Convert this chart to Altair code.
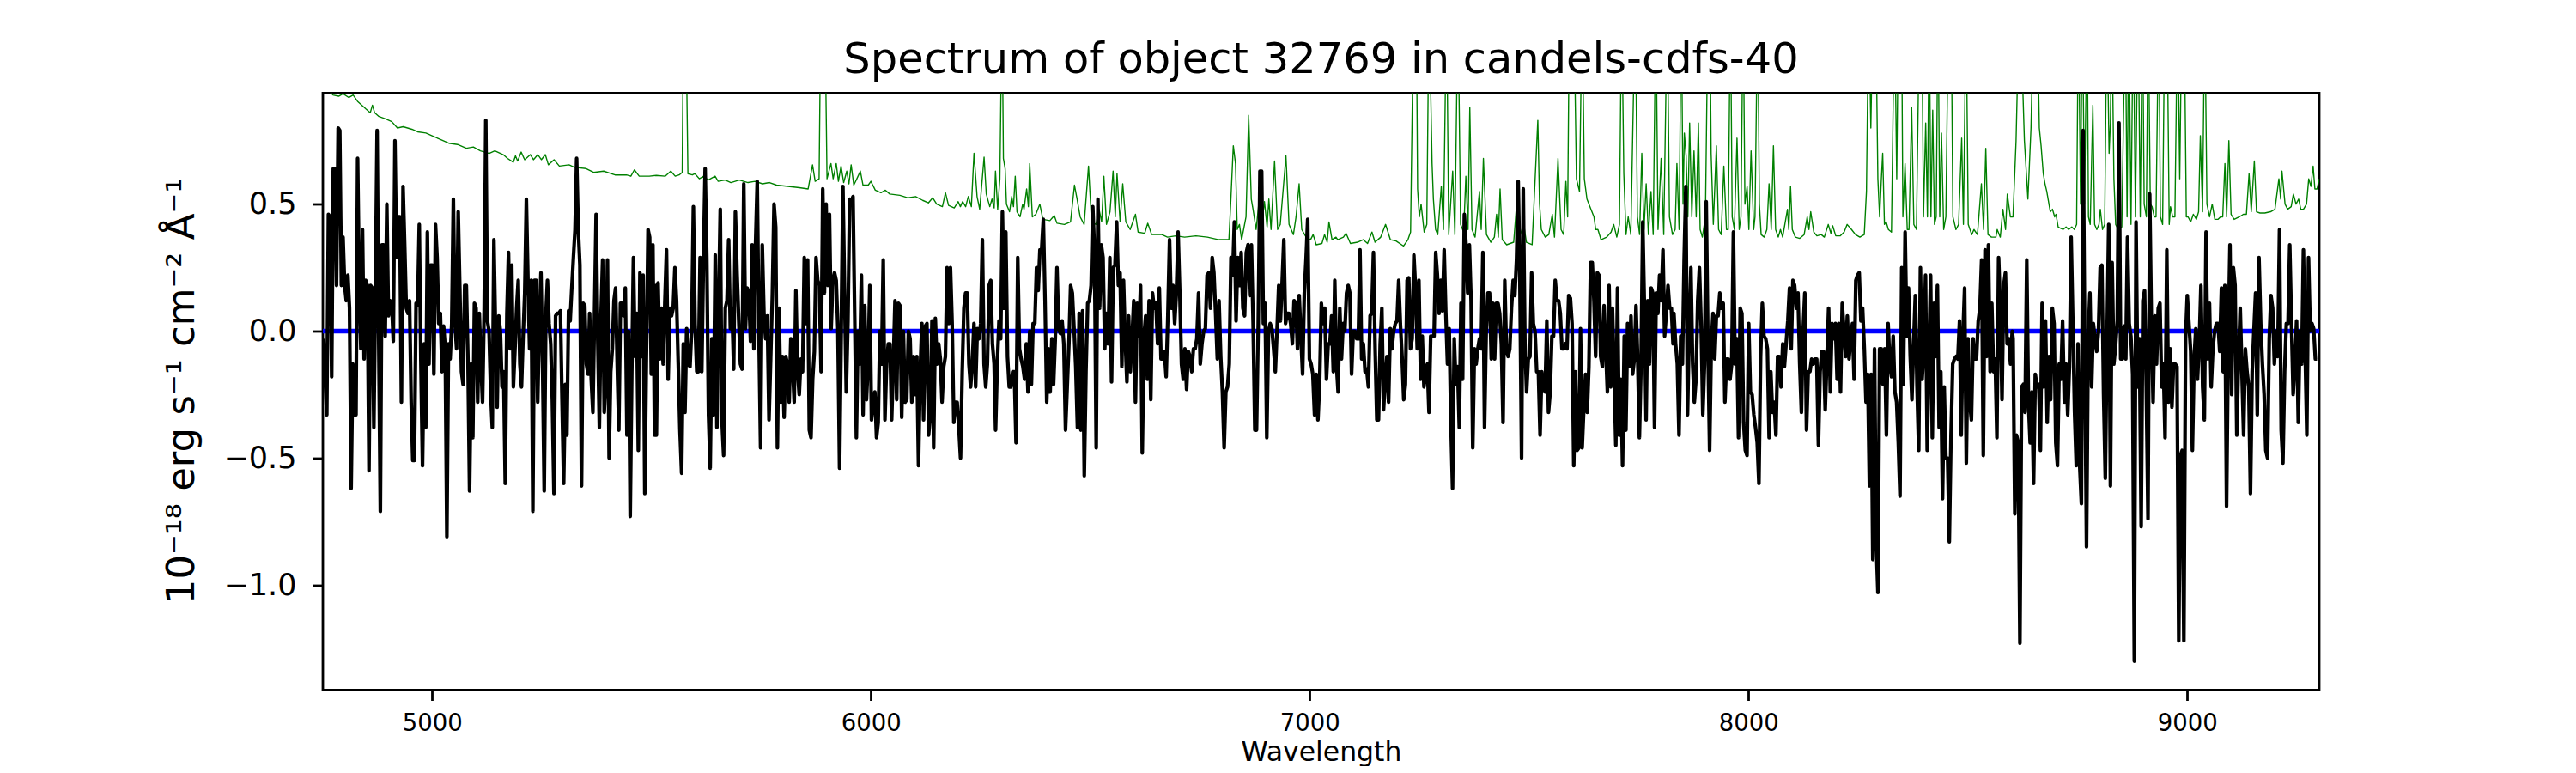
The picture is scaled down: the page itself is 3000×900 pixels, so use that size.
import altair as alt
import numpy as np
import pandas as pd

# ---- observed flux (black), sampled on an even grid inside each wavelength segment ----
seg_start = [4752.6, 5511.2, 6284.2, 7057.2, 7830.2, 8603.2]
seg_end = [5510.6, 6280.9, 7053.9, 7828.2, 8601.2, 9296.0]

flux_1 = [-0.03,-0.19,-0.33,0.46,0.45,-0.18,0.64,0.64,0.18,0.80,0.79,0.18,0.37,0.18,0.12,0.22,0.09,-0.62,-0.13,-0.33,
          -0.33,0.68,0.18,-0.07,0.40,-0.11,0.20,0.18,-0.55,0.18,0.17,-0.38,0.17,0.79,-0.03,-0.71,0.34,0.34,-0.02,0.50,
          0.06,0.12,0.11,-0.04,0.75,0.29,0.45,0.45,-0.28,0.57,0.34,0.09,0.07,0.12,-0.28,-0.51,-0.51,0.11,0.10,0.42,
          -0.13,-0.53,-0.05,-0.38,0.39,-0.13,0.26,0.26,-0.17,0.42,0.29,0.03,0.07,-0.16,0.02,-0.07,-0.81,-0.05,-0.11,0.03,
          0.52,0.03,-0.07,0.47,0.17,-0.16,-0.21,0.18,0.18,-0.11,-0.63,-0.13,-0.42,0.11,0.09,-0.28,0.07,-0.13,-0.28,0.09,
          0.83,0.04,0.00,-0.24,-0.38,0.36,0.00,-0.30,0.06,0.00,-0.22,-0.16,-0.60,0.07,0.31,-0.07,0.26,-0.22,-0.07,0.09,
          0.20,-0.13,-0.22,-0.02,0.15,0.52,0.20,-0.07,0.20,-0.71,0.20,0.20,-0.28,0.03,0.23,-0.13,-0.63,0.06,0.20,0.03,
          -0.05,-0.27,-0.64,0.06,0.07,0.07,0.08,-0.28,-0.60,-0.21,-0.41,0.08,0.04,0.17,0.29,0.40,0.68,0.40,0.26,-0.61,
          0.11,0.10,-0.13,-0.17,0.07,-0.19,-0.32,0.06,0.46,-0.03,-0.38,0.06,0.28,-0.32,-0.19,0.28,-0.50,-0.16,-0.07,0.12,
          0.17,-0.13,-0.39,0.11,0.11,0.06,0.17,-0.41,0.00,-0.73,-0.16,0.29,-0.10,0.07,-0.47,0.23,-0.10,0.22,-0.64,-0.10,
          0.40,0.37,-0.17,0.34,-0.41,0.18]
flux_2 = [-0.41,0.19,-0.11,0.09,-0.13,0.11,0.32,-0.19,0.09,0.06,0.09,0.25,0.12,-0.13,-0.39,-0.56,-0.05,-0.32,0.01,-0.13,
          -0.14,0.01,0.49,0.03,-0.16,-0.16,0.29,-0.16,0.28,0.64,0.29,-0.33,-0.54,-0.03,-0.33,0.30,-0.38,0.09,0.48,-0.35,
          -0.49,0.09,0.12,0.36,0.01,0.09,-0.15,0.47,0.23,0.04,-0.13,-0.15,0.58,0.01,0.17,0.15,-0.04,0.34,-0.07,0.34,
          0.59,0.00,-0.46,0.34,0.07,-0.03,0.06,-0.35,-0.11,0.14,0.50,0.41,-0.46,0.09,-0.28,-0.10,-0.34,-0.10,-0.13,-0.28,
          -0.03,-0.13,-0.28,0.16,-0.16,-0.25,-0.11,-0.16,0.29,0.03,0.28,-0.39,-0.42,-0.19,-0.08,0.29,0.20,0.18,-0.16,0.56,
          0.15,0.50,0.18,0.46,0.01,0.20,0.23,0.20,0.01,-0.54,0.00,0.57,0.15,-0.24,0.04,0.52,0.51,0.53,0.06,-0.42,
          0.00,-0.13,0.22,-0.33,0.10,-0.27,-0.13,0.18,-0.35,-0.28,-0.24,-0.42,-0.36,0.00,-0.13,0.28,-0.35,-0.13,-0.05,-0.05,
          -0.35,-0.13,0.12,-0.27,0.11,0.10,-0.34,0.00,-0.28,-0.27,0.00,-0.03,-0.28,-0.10,-0.25,-0.10,-0.53,-0.16,0.03,-0.35,
          0.02,0.03,-0.41,-0.33,0.04,-0.46,0.05,-0.13,-0.05,-0.11,-0.28,-0.14,-0.10,0.25,0.03,0.25,0.03,-0.36,-0.28,-0.28,
          -0.38,-0.50,-0.16,0.09,0.15,0.15,-0.13,-0.22,-0.13,0.03,-0.22,0.01,-0.03,0.03,0.36,-0.13,-0.22,-0.13,0.18,0.20,
          -0.05,-0.13]
flux_3 = [-0.39,-0.13,0.04,-0.03,0.47,0.09,0.39,-0.10,-0.22,-0.22,-0.16,-0.16,-0.44,0.29,-0.07,-0.11,-0.14,-0.19,-0.05,-0.24,
          0.00,-0.21,0.03,0.03,0.25,0.16,0.32,0.32,0.44,0.12,-0.28,-0.07,-0.24,-0.03,-0.21,-0.03,0.25,0.01,-0.01,0.04,
          -0.05,-0.39,-0.22,-0.05,0.18,0.15,0.01,-0.14,-0.38,0.07,-0.39,0.08,-0.57,-0.16,0.11,0.12,0.18,0.49,0.31,-0.46,
          0.52,0.09,0.34,0.29,-0.07,0.07,-0.05,0.29,-0.20,0.25,0.26,0.43,0.18,0.23,-0.14,0.20,-0.03,-0.20,0.06,-0.16,
          -0.03,0.12,-0.28,0.11,-0.02,0.18,-0.48,-0.02,0.06,-0.19,0.12,-0.27,0.15,0.09,0.11,-0.05,0.17,-0.11,-0.11,-0.08,
          -0.18,0.06,0.36,0.09,0.18,0.03,0.15,0.39,0.15,-0.13,-0.19,-0.07,-0.23,-0.08,-0.10,-0.16,-0.07,-0.07,-0.03,0.15,
          -0.13,-0.05,0.00,0.01,0.22,0.23,0.09,0.29,0.23,0.07,-0.11,0.12,-0.10,-0.24,-0.46,-0.24,-0.22,-0.13,0.29,0.22,
          0.43,0.04,0.29,0.18,0.31,0.09,0.06,0.31,0.34,0.14,0.34,0.03,-0.39,-0.39,0.03,0.63,0.63,0.03,0.11,-0.42,
          0.00,0.03,0.01,-0.07,-0.16,0.00,0.18,0.04,0.19,0.36,0.03,0.07,0.07,0.03,-0.05,0.12,0.11,-0.07,0.14,-0.02,
          -0.17,0.15,0.28,0.44,-0.11,-0.13,-0.17,-0.33,-0.17,-0.35,-0.20,0.11,0.03,0.09,-0.19,-0.05,-0.05,0.06,-0.16]
flux_4 = [0.20,-0.13,-0.24,0.09,-0.11,0.03,0.00,0.15,0.18,0.15,-0.17,0.00,0.00,-0.03,-0.03,0.32,-0.11,-0.05,-0.16,-0.15,
          -0.22,0.06,0.07,0.31,-0.07,-0.35,-0.35,-0.05,0.09,-0.31,-0.19,-0.10,-0.28,0.01,-0.07,0.00,0.03,0.04,0.20,0.03,
          -0.10,-0.27,-0.21,0.20,0.21,-0.07,-0.03,0.30,0.17,-0.07,0.20,-0.19,-0.02,-0.22,-0.16,-0.13,-0.32,-0.02,-0.02,-0.02,
          0.31,0.22,0.07,0.20,0.08,0.32,0.07,-0.13,0.01,-0.36,-0.62,-0.03,-0.21,-0.14,-0.38,0.11,-0.19,0.46,0.34,0.15,
          0.34,0.12,-0.46,-0.07,-0.13,-0.07,-0.03,-0.07,0.31,-0.38,0.00,0.15,0.15,-0.11,0.11,-0.11,0.11,0.11,0.07,-0.05,
          -0.36,0.20,-0.07,-0.10,-0.07,0.09,0.20,0.14,0.28,0.59,0.20,-0.50,0.56,-0.05,-0.24,-0.11,-0.10,0.23,0.03,0.00,
          -0.16,-0.16,-0.41,-0.16,-0.22,-0.24,0.04,-0.32,-0.24,-0.02,-0.02,0.20,0.12,0.12,0.07,-0.07,-0.07,-0.05,-0.07,0.14,
          0.13,0.03,-0.53,-0.16,-0.47,-0.46,0.01,-0.46,-0.30,-0.17,-0.32,-0.14,0.27,0.27,0.12,-0.10,0.23,0.22,-0.10,-0.14,
          0.10,-0.07,-0.24,0.18,-0.22,0.09,-0.17,-0.45,0.17,-0.41,-0.19,-0.53,-0.02,-0.39,0.03,-0.14,0.06,-0.17,-0.11,0.10,
          -0.11,-0.42,-0.13,0.43,0.09,-0.35,0.12,-0.13,0.17,0.15,-0.38,0.15,0.07,0.22,0.12,0.32,-0.02,0.07,0.18,0.09,
          0.09,-0.05]
flux_5 = [0.07,-0.05,-0.13,-0.41,-0.02,-0.13,0.28,0.57,-0.33,0.00,0.25,-0.13,-0.28,-0.19,0.12,0.25,0.03,-0.33,-0.13,0.51,
          -0.05,-0.47,-0.05,0.07,-0.11,0.06,0.06,0.15,0.09,0.11,-0.28,-0.11,-0.11,-0.19,-0.13,0.39,-0.13,-0.03,-0.42,0.09,
          0.07,-0.36,-0.47,-0.49,0.03,-0.24,-0.25,-0.33,-0.38,-0.44,-0.60,-0.10,0.11,-0.02,-0.03,-0.07,-0.42,-0.16,-0.32,-0.28,
          -0.41,-0.10,-0.10,-0.22,-0.05,-0.14,-0.05,0.04,0.17,-0.07,0.20,0.18,0.09,0.15,-0.13,-0.32,0.00,0.15,-0.39,-0.16,
          -0.16,-0.11,-0.13,-0.11,-0.11,-0.45,-0.16,-0.08,-0.08,-0.31,-0.11,0.09,-0.24,0.03,-0.03,0.03,-0.19,0.03,-0.24,0.11,
          0.00,-0.10,0.06,-0.11,-0.03,0.03,-0.19,0.20,0.22,0.23,0.04,0.09,-0.07,-0.28,-0.17,-0.61,-0.17,-0.90,-0.07,-0.83,
          -1.03,-0.07,-0.07,-0.21,-0.07,-0.41,0.03,-0.13,-0.18,-0.02,-0.24,-0.28,-0.44,-0.65,0.25,-0.21,0.39,-0.02,0.17,-0.10,
          -0.27,-0.05,0.14,-0.22,-0.47,0.25,-0.19,-0.08,0.22,-0.47,-0.10,0.22,-0.42,0.11,-0.10,0.18,-0.38,-0.16,-0.66,-0.22,
          -0.50,-0.50,-0.83,-0.41,-0.13,-0.11,-0.10,-0.11,0.04,-0.41,-0.02,0.17,-0.52,-0.03,-0.28,-0.35,-0.03,-0.11,-0.11,0.04,
          0.09,0.28,-0.49,0.32,-0.10,0.34,-0.16,0.11,-0.16,-0.11,-0.42,0.29,0.09,-0.27,0.18,0.23,-0.05,-0.03,-0.13,0.00]
flux_6 = [-0.03,-0.72,-0.41,-0.44,-1.23,-0.22,-0.21,-0.32,0.28,-0.28,-0.44,-0.24,-0.60,-0.17,-0.22,-0.21,-0.47,0.11,-0.22,0.04,
          -0.36,-0.10,-0.27,0.09,0.03,-0.44,-0.53,-0.13,-0.19,0.04,-0.28,-0.13,-0.33,-0.14,0.37,0.03,-0.32,-0.53,-0.05,-0.53,
          -0.68,0.79,-0.07,-0.85,-0.02,0.15,-0.22,0.03,-0.03,-0.08,0.00,0.25,0.26,-0.25,-0.58,-0.03,0.42,-0.61,0.27,-0.13,
          -0.06,0.04,0.82,-0.11,-0.11,0.02,-0.11,0.37,0.03,-0.02,-0.17,-1.30,0.43,-0.22,-0.03,-0.77,0.12,0.16,-0.22,-0.74,
          0.54,0.03,-0.28,0.06,-0.13,0.09,0.11,-0.22,-0.13,-0.42,0.32,-0.28,-0.07,-0.30,-0.13,-0.13,-0.14,-1.22,-0.49,-0.47,
          -1.22,-0.03,0.14,0.03,-0.08,-0.47,-0.11,0.01,-0.19,-0.05,0.18,-0.22,-0.35,0.39,-0.11,0.11,-0.22,-0.07,0.00,0.03,
          0.03,-0.08,0.17,-0.16,0.18,-0.69,-0.03,0.34,-0.25,0.25,0.18,-0.41,-0.11,0.09,-0.16,-0.41,-0.07,-0.16,-0.22,-0.64,
          -0.16,0.00,0.15,-0.33,0.29,0.03,-0.13,-0.25,-0.47,-0.50,-0.03,0.14,0.09,-0.13,0.00,-0.10,0.40,-0.39,-0.52,-0.16,
          0.03,0.03,0.34,0.03,-0.25,-0.13,0.04,-0.36,0.00,-0.13,0.32,-0.07,-0.41,0.29,0.00,0.03,0.01,-0.11,-0.11]

# ---- error / sky spectrum (green) ----
err_wave = [4751,4774,4787,4797,4810,4820,4830,4849,4859,4864,4869,4879,4895,4908,4921,4934,4954,4967,4986,4999,
            5019,5038,5058,5078,5094,5110,5130,5143,5162,5172,5185,5190,5195,5203,5211,5224,5231,5241,5249,5258,
            5265,5278,5290,5312,5325,5351,5368,5391,5417,5443,5453,5461,5472,5495,
            5511,5531,5544,5554,5563,5570,5573,5578,5583,5593,5599,5609,5619,5629,5645,5652,5668,5681,5700,5720,
            5736,5753,5769,5785,5811,5837,5857,5867,5873,5882,5886,5895,5900,5909,5914,5921,5926,5932,5938,5945,
            5950,5955,5961,5968,5976,5982,5994,6000,6010,6023,6033,6043,6066,6085,6102,6118,6131,6141,6150,6163,
            6170,6177,6190,6199,6204,6209,6216,6222,6229,6235,6242,6248,6258,6263,6271,6276,6281,
            6284,6289,6294,6299,6302,6306,6309,6316,6321,6325,6329,6333,6340,6346,6349,6355,6359,6362,6368,6376,
            6385,6392,6408,6418,6424,6441,6455,6464,6470,6477,6486,6496,6503,6513,6520,6526,6531,6537,6545,6552,
            6557,6561,6568,6574,6581,6591,6603,6609,6624,6631,6640,6663,6676,6695,6715,6741,6767,6793,6816,6820,
            6826,6831,6835,6840,6845,6855,6861,6867,6871,6878,6884,6890,6897,6903,6907,6912,6920,6927,6933,6946,
            6953,6963,6969,6976,6982,6992,7002,7008,7015,7028,7034,7040,7044,7051,
            7060,7064,7077,7083,7093,7109,7122,7132,7142,7149,7162,7173,7184,7197,7214,7224,7230,7237,7243,7246,
            7250,7254,7261,7267,7272,7279,7282,7287,7292,7300,7305,7312,7317,7326,7331,7338,7344,7351,7356,7361,
            7365,7370,7377,7387,7391,7396,7403,7413,7421,7426,7430,7434,7439,7449,7465,7475,7480,7488,7494,7507,
            7520,7524,7528,7537,7545,7553,7558,7566,7573,7579,7584,7588,7592,7602,7608,7615,7621,7626,7632,7641,
            7648,7652,7657,7664,7677,7687,7693,7700,7706,7711,7716,7721,7726,7732,7742,7747,7752,7757,7762,7767,
            7772,7778,7783,7789,7794,7801,7807,7815,7820,7827,
            7833,7837,7842,7847,7851,7854,7858,7862,7866,7871,7876,7881,7886,7890,7895,7902,7908,7912,7915,7920,
            7927,7932,7938,7944,7950,7954,7959,7963,7968,7974,7979,7983,7988,7992,7997,8001,8006,8012,8015,8021,
            8025,8029,8036,8042,8047,8052,8057,8062,8068,8073,8078,8083,8089,8092,8096,8100,8107,8117,8127,8134,
            8138,8142,8149,8156,8166,8173,8182,8188,8192,8199,8209,8218,8225,8235,8244,8254,8264,8269,8274,8279,
            8284,8290,8295,8299,8303,8306,8310,8314,8319,8326,8333,8338,8342,8349,8352,8357,8362,8366,8372,8377,
            8383,8390,8395,8399,8404,8408,8412,8416,8420,8424,8428,8432,8436,8440,8445,8450,8456,8462,8466,8473,
            8479,8486,8490,8496,8501,8509,8514,8522,8531,8536,8541,8546,8554,8564,8567,8574,8580,8586,8590,8597,
            8603,8610,8616,8621,8629,8637,8644,8649,8659,8663,8667,8672,8676,8680,8685,8688,8693,8698,8701,8706,
            8717,8724,8730,8737,8743,8748,8752,8757,8761,8766,8772,8775,8779,8785,8789,8794,8799,8802,8807,8812,
            8817,8822,8825,8828,8833,8837,8843,8851,8859,8863,8867,8872,8877,8882,8888,8893,8898,8902,8907,8911,
            8916,8920,8925,8929,8935,8939,8944,8949,8954,8959,8962,8967,8972,8978,8983,8988,8993,8998,9002,9008,
            9014,9021,9026,9030,9035,9040,9045,9051,9057,9063,9070,9076,9081,9086,9090,9095,9100,9107,9119,9128,
            9135,9141,9146,9153,9158,9166,9177,9190,9200,9209,9213,9216,9223,9229,9237,9242,9248,9254,9259,9265,
            9272,9277,9282,9287,9291,9296,9301]
err_flux = [0.97,0.93,0.925,0.935,0.92,0.93,0.905,0.875,0.86,0.89,0.86,0.845,0.835,0.825,0.80,0.805,0.795,0.785,0.78,0.77,
            0.755,0.74,0.735,0.72,0.725,0.71,0.70,0.71,0.695,0.68,0.665,0.69,0.67,0.705,0.675,0.695,0.675,0.695,0.675,0.695,
            0.655,0.675,0.65,0.655,0.645,0.64,0.625,0.63,0.615,0.615,0.61,0.635,0.61,0.61,
            0.613,0.61,0.63,0.61,0.615,0.625,1.3,1.3,0.62,0.615,0.62,0.60,0.61,0.595,0.61,0.59,0.595,0.585,0.595,0.585,
            0.59,0.58,0.585,0.575,0.57,0.565,0.56,0.655,0.59,0.60,1.3,1.3,0.60,0.66,0.60,0.66,0.59,0.65,0.585,0.63,
            0.58,0.655,0.575,0.60,0.63,0.575,0.575,0.59,0.555,0.545,0.555,0.54,0.535,0.525,0.53,0.515,0.505,0.525,0.50,0.49,
            0.545,0.495,0.485,0.51,0.49,0.51,0.49,0.53,0.49,0.70,0.53,0.48,0.685,0.54,0.49,0.52,0.485,
            0.63,0.48,0.60,1.3,0.68,0.64,0.50,0.47,0.53,0.49,0.61,0.47,0.45,0.50,0.48,0.56,0.49,0.66,0.45,0.46,
            0.50,0.44,0.435,0.455,0.425,0.42,0.43,0.575,0.52,0.45,0.42,0.65,0.43,0.42,0.48,0.43,0.61,0.42,0.47,0.63,
            0.45,0.62,0.43,0.58,0.43,0.40,0.46,0.39,0.385,0.425,0.38,0.38,0.37,0.375,0.37,0.375,0.37,0.36,0.36,0.50,
            0.73,0.66,0.40,0.42,0.36,0.45,0.85,0.52,0.48,0.40,0.50,0.41,0.51,0.41,0.52,0.40,0.67,0.40,0.42,0.69,
            0.42,0.38,0.45,0.58,0.40,0.37,0.36,0.38,0.34,0.345,0.38,0.35,0.43,0.36,
            0.37,0.36,0.37,0.385,0.345,0.35,0.36,0.345,0.39,0.35,0.37,0.42,0.36,0.355,0.335,0.36,0.39,1.3,1.3,0.56,
            0.45,0.50,0.39,0.42,1.3,0.66,0.52,0.40,0.38,0.57,0.40,1.3,0.38,0.63,0.38,1.3,0.42,0.39,0.61,0.40,
            0.88,0.40,0.37,0.55,0.40,0.68,0.38,0.35,0.37,0.46,0.37,0.56,0.36,0.34,0.35,0.57,0.38,0.42,0.35,0.34,
            0.83,0.50,0.40,0.37,0.38,0.46,0.37,0.68,0.40,0.38,0.59,0.45,1.3,1.3,0.60,0.55,1.3,0.60,0.52,0.48,
            0.45,0.40,0.40,0.36,0.37,0.39,0.42,0.37,0.42,1.3,0.62,0.38,0.45,0.38,1.3,0.45,0.38,0.70,0.40,0.58,
            0.38,0.55,0.38,1.3,0.40,0.68,0.38,1.3,0.45,0.38,
            0.40,0.66,0.40,1.3,0.50,0.78,0.69,0.45,0.82,0.45,0.71,0.45,0.82,0.40,0.37,0.45,1.3,1.3,0.70,0.42,
            0.73,0.40,0.38,0.65,0.40,0.40,1.3,0.45,0.40,0.76,0.40,0.45,1.3,0.50,0.57,0.40,0.71,0.40,0.45,1.3,
            0.50,0.38,0.37,0.40,0.58,0.40,0.73,0.40,0.37,0.40,0.37,0.42,0.48,0.40,0.57,0.40,0.37,0.365,0.38,0.45,
            0.40,0.47,0.39,0.375,0.38,0.37,0.42,0.385,0.415,0.375,0.375,0.39,0.42,0.40,0.38,0.37,0.38,0.55,1.3,0.80,
            1.3,1.3,0.60,0.45,0.60,0.70,0.42,0.43,0.40,0.39,1.3,0.60,1.3,1.3,0.45,0.66,0.40,0.40,0.88,0.42,
            0.40,1.3,1.3,0.45,0.82,0.45,1.3,0.45,0.87,0.42,0.45,1.3,0.45,0.78,0.40,0.45,1.3,1.3,0.45,0.40,
            0.42,0.76,0.42,1.3,0.42,0.38,0.40,0.38,0.58,0.40,0.72,0.38,0.37,0.37,0.40,0.37,0.48,0.40,0.54,0.45,
            0.45,0.75,1.2,1.2,0.75,0.52,0.80,1.2,1.2,0.80,0.73,0.62,0.58,0.55,0.50,0.47,0.48,0.45,0.46,0.41,
            0.40,0.41,0.40,0.41,0.40,0.42,1.3,0.50,1.3,0.50,1.3,0.45,0.42,0.89,0.42,0.40,0.42,0.48,0.40,0.42,
            1.3,0.70,0.82,1.3,0.60,0.42,0.40,0.41,1.3,0.45,1.3,0.42,1.3,0.45,1.3,0.45,1.3,0.50,0.45,1.3,
            0.50,0.49,0.45,0.45,1.3,0.45,0.42,1.3,1.3,0.42,0.49,0.45,0.45,1.3,0.60,1.3,1.3,0.45,0.45,0.43,
            0.46,0.44,0.47,0.77,0.47,1.3,0.50,0.45,0.50,0.44,0.44,0.45,0.45,0.66,0.45,0.75,0.46,0.44,0.45,0.46,
            0.46,0.62,0.47,0.67,0.47,0.465,0.465,0.47,0.48,0.60,0.52,0.63,0.50,0.48,0.49,0.54,0.50,0.52,0.48,0.48,
            0.50,0.60,0.57,0.65,0.56,0.56,0.60]

# ---- model (blue) ----
model_wave = [4751, 9301]
model_flux = [0.0, 0.0]

x_ticks = [5000, 6000, 7000, 8000, 9000]
y_ticks = [-1.0, -0.5, 0.0, 0.5]
x_domain = [4751, 9301]
y_domain = [-1.414, 0.937]

flux_segments = [flux_1, flux_2, flux_3, flux_4, flux_5, flux_6]
obs = pd.DataFrame({
    "wave": np.concatenate([np.linspace(s, e, len(f)) for s, e, f in zip(seg_start, seg_end, flux_segments)]),
    "flux": np.concatenate([np.array(f, dtype=float) for f in flux_segments]),
})
err = pd.DataFrame({"wave": err_wave, "flux": err_flux})
model = pd.DataFrame({"wave": model_wave, "flux": model_flux})

FONT = "DejaVu Sans"
x_enc = alt.X("wave:Q",
              scale=alt.Scale(domain=x_domain, nice=False, zero=False),
              axis=alt.Axis(values=x_ticks, format="d", labelFont=FONT, labelFontSize=27.5,
                            labelColor="black", tickColor="black", tickSize=12, tickWidth=2.8,
                            labelPadding=13, domain=False, grid=False, labelFlush=False,
                            title="Wavelength", titleFont=FONT, titleFontSize=31.5,
                            titleFontWeight="normal", titleColor="black",
                            titleY=81.5, titleBaseline="alphabetic"))
y_enc = alt.Y("flux:Q",
              scale=alt.Scale(domain=y_domain, nice=False, zero=False),
              axis=alt.Axis(values=y_ticks, format=".1f", labelFont=FONT, labelFontSize=35,
                            labelColor="black", tickColor="black", tickSize=12, tickWidth=2.8,
                            labelPadding=19, domain=False, grid=False, labelFlush=False,
                            title="10⁻¹⁸ erg s⁻¹ cm⁻² Å⁻¹", titleFont=FONT, titleFontSize=45,
                            titleFontWeight="normal", titleColor="black",
                            titleX=-151, titleY=346, titleAngle=270, titleAlign="center",
                            titleBaseline="alphabetic"))

green = alt.Chart(err).mark_line(color="#008000", strokeWidth=1.4, strokeJoin="round", clip=True).encode(
    x=x_enc, y=y_enc)
blue = alt.Chart(model).mark_line(color="#0000ff", strokeWidth=5.5, clip=True).encode(x=x_enc, y=y_enc)
black = alt.Chart(obs).mark_line(color="#000000", strokeWidth=4.2, strokeJoin="round", clip=True).encode(
    x=x_enc, y=y_enc)

chart = alt.layer(green, blue, black).properties(
    width=2325, height=695,
    title=alt.TitleParams("Spectrum of object 32769 in candels-cdfs-40", font=FONT, fontSize=49.5,
                          fontWeight="normal", color="black", anchor="middle", frame="group",
                          baseline="alphabetic", offset=23, dy=49),
    autosize=alt.AutoSizeParams(type="none"),
    padding={"left": 368, "top": 100.5, "right": 291, "bottom": 88},
    background="white",
).configure_view(stroke="black", strokeWidth=2.8)

chart.save("out.html", embed_options={"renderer": "svg", "actions": False})
